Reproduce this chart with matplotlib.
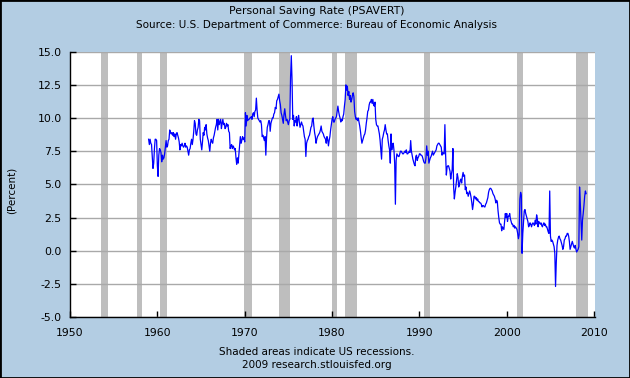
import numpy as np
import matplotlib
matplotlib.use("Agg")
import matplotlib.pyplot as plt
from matplotlib.patches import Rectangle

# monthly personal saving rate (percent), Jan 1959 onward, one row per year
sav_1959_1968 = [
    8.4, 8.0, 8.4, 8.1, 8.0, 7.1, 6.2, 6.6, 7.7, 8.4, 8.4, 8.3,
    6.4, 5.6, 7.2, 7.7, 7.6, 7.4, 6.7, 7.2, 6.9, 7.0, 7.3, 7.8,
    8.3, 7.8, 7.9, 8.3, 8.4, 9.1, 8.9, 8.8, 8.9, 8.7, 8.9, 8.6,
    8.8, 8.4, 8.8, 8.9, 8.7, 8.5, 8.2, 7.6, 8.0, 7.9, 8.1, 7.9,
    7.8, 7.9, 8.1, 7.8, 7.9, 7.8, 7.5, 7.2, 7.6, 7.7, 8.1, 8.4,
    8.0, 8.4, 9.0, 9.8, 9.6, 8.8, 8.7, 9.1, 9.3, 9.9, 9.8, 8.4,
    8.0, 7.6, 8.2, 8.9, 8.7, 9.3, 9.1, 9.5, 8.8, 8.5, 8.3, 7.9,
    7.5, 8.1, 8.4, 8.2, 8.1, 8.5, 8.7, 9.0, 9.3, 9.5, 9.9, 9.1,
    9.9, 9.5, 9.7, 9.9, 9.2, 9.6, 9.9, 9.5, 9.6, 9.2, 9.3, 9.6,
    9.4, 9.5, 9.0, 8.9, 7.7, 7.9, 8.0, 7.7, 7.9, 7.8, 7.6, 7.7,
]
sav_1969_1978 = [
    7.0, 6.5, 7.0, 6.6, 7.3, 7.9, 8.6, 8.1, 8.3, 8.6, 8.4, 8.5,
    8.2, 10.4, 9.4, 10.2, 9.8, 9.9, 9.9, 10.0, 10.0, 10.1, 9.9, 10.3,
    10.4, 10.1, 10.5, 10.6, 11.5, 10.6, 10.0, 9.9, 9.8, 9.7, 9.8, 9.5,
    8.6, 8.7, 8.5, 8.3, 8.6, 7.2, 8.5, 9.3, 9.5, 9.8, 9.8, 9.0,
    9.6, 9.8, 10.0, 10.0, 10.3, 10.4, 10.8, 10.7, 11.3, 11.4, 11.6, 11.8,
    11.3, 11.0, 10.4, 10.2, 9.9, 9.6, 10.3, 10.7, 10.2, 9.8, 9.9, 9.7,
    9.5, 9.8, 9.9, 13.1, 14.7, 12.9, 9.9, 10.2, 9.4, 9.8, 9.7, 10.1,
    9.4, 9.9, 10.2, 9.7, 9.3, 9.5, 9.7, 9.5, 9.4, 9.0, 8.6, 8.4,
    7.1, 8.1, 8.3, 8.4, 8.6, 8.7, 9.0, 9.3, 9.4, 9.9, 10.0, 9.4,
    8.9, 8.6, 8.1, 8.4, 8.6, 8.7, 8.8, 8.9, 9.1, 9.4, 9.0, 8.9,
]
sav_1979_1988 = [
    8.8, 8.6, 8.5, 8.4, 8.1, 8.6, 8.4, 7.9, 8.3, 8.6, 9.1, 9.5,
    9.9, 10.1, 9.7, 9.7, 9.9, 10.0, 10.1, 10.5, 10.9, 10.5, 10.2, 10.0,
    9.7, 9.9, 9.8, 10.1, 10.3, 10.9, 11.4, 12.5, 12.1, 12.4, 11.7, 12.0,
    11.4, 11.7, 11.2, 11.4, 11.7, 11.9, 11.6, 10.5, 10.1, 9.9, 10.0, 9.8,
    10.0, 9.7, 9.4, 9.0, 8.5, 8.1, 8.3, 8.5, 8.7, 8.8, 9.1, 9.6,
    10.0, 10.5, 10.6, 11.0, 11.2, 11.2, 11.4, 11.1, 11.4, 11.0, 10.9, 11.2,
    9.9, 9.5, 9.4, 9.4, 9.1, 8.8, 8.3, 7.6, 6.9, 8.4, 8.6, 8.9,
    9.1, 9.5, 9.1, 8.8, 8.8, 8.3, 7.9, 7.6, 6.6, 8.8, 7.6, 8.0,
    8.1, 7.6, 6.6, 3.5, 6.8, 7.3, 7.2, 7.1, 7.1, 7.3, 7.5, 7.5,
    7.4, 7.3, 7.3, 7.4, 7.5, 7.4, 7.6, 7.3, 7.3, 7.4, 7.5, 7.4,
]
sav_1989_1998 = [
    8.3, 7.5, 7.2, 6.9, 6.7, 6.5, 6.4, 7.1, 7.2, 6.8, 7.0, 7.1,
    7.3, 7.3, 7.2, 7.2, 7.1, 6.9, 6.7, 6.6, 6.6, 7.0, 7.9, 7.2,
    7.5, 6.6, 6.8, 7.0, 7.1, 7.3, 7.5, 7.2, 7.3, 7.4, 7.5, 7.6,
    7.9, 8.0, 8.1, 8.1, 8.0, 7.9, 7.8, 7.2, 7.4, 7.3, 7.3, 9.5,
    7.2, 5.7, 6.3, 6.4, 6.4, 6.2, 6.0, 5.4, 5.8, 6.1, 7.7, 4.8,
    3.9, 4.4, 4.8, 5.3, 5.8, 5.5, 4.8, 5.0, 5.3, 5.4, 5.1, 5.6,
    5.9, 5.6, 5.7, 4.6, 4.8, 4.3, 4.4, 4.1, 4.3, 4.5, 4.3, 4.0,
    3.6, 3.1, 3.5, 4.1, 4.1, 3.9, 4.0, 3.8, 3.9, 3.7, 3.7, 3.6,
    3.6, 3.5, 3.3, 3.4, 3.4, 3.3, 3.3, 3.5, 3.6, 3.8, 4.0, 4.4,
    4.6, 4.7, 4.7, 4.6, 4.5, 4.3, 4.2, 4.1, 3.9, 3.6, 3.8, 3.7,
]
sav_1999_2009 = [
    3.0, 2.5, 2.1, 2.0, 2.0, 1.5, 1.8, 1.7, 1.6, 2.2, 2.8, 2.5,
    2.8, 2.2, 2.6, 2.6, 2.8, 2.4, 2.2, 2.0, 2.0, 1.8, 1.9, 1.7,
    1.8, 1.7, 1.6, 1.3, 0.9, 1.2, 3.9, 4.4, 4.2, -0.2, 1.3, 2.1,
    3.0, 3.1, 2.8, 2.6, 2.4, 2.2, 1.8, 1.9, 2.1, 2.0, 1.8, 2.0,
    2.1, 2.0, 1.9, 2.3, 2.0, 2.7, 2.4, 1.8, 2.2, 2.1, 2.0, 2.1,
    1.9, 1.8, 2.0, 2.1, 1.9, 2.0, 1.8, 1.8, 1.6, 1.4, 1.3, 4.5,
    1.1, 0.7, 0.8, 0.7, 0.5, 0.3, -0.2, -2.7, -0.9, 0.4, 0.8, 1.0,
    1.1, 0.9, 0.8, 0.6, 0.4, 0.1, 0.3, 0.8, 0.9, 1.1, 1.1, 1.3,
    1.3, 1.1, 0.7, 0.1, 0.3, 0.5, 0.7, 0.5, 0.3, 0.2, 0.4, 0.1,
    -0.1, 0.0, 0.1, 0.3, 4.8, 3.6, 2.1, 0.8, 2.3, 2.8, 3.4, 4.1,
    4.5, 4.3,
]
start_year = 1959

# NBER recessions (start, end) in decimal years
recessions = [(1953.5, 1954.37), (1957.62, 1958.29), (1960.29, 1961.12),
              (1969.92, 1970.87), (1973.87, 1975.21), (1980.0, 1980.54),
              (1981.5, 1982.87), (1990.54, 1991.21), (2001.17, 2001.87),
              (2007.87, 2009.35)]

x_ticks = [1950, 1960, 1970, 1980, 1990, 2000, 2010]
y_ticks = [-5.0, -2.5, 0.0, 2.5, 5.0, 7.5, 10.0, 12.5, 15.0]

rate = np.array(sav_1959_1968 + sav_1969_1978 + sav_1979_1988
                + sav_1989_1998 + sav_1999_2009)
years = start_year + np.arange(len(rate)) / 12.0

bg = "#b3cde3"
W, H = 630, 378
fig = plt.figure(figsize=(6.3, 3.78), dpi=100, facecolor=bg)
ax = fig.add_axes([70 / W, 1 - 317 / H, 525 / W, 265.3 / H])
ax.set_facecolor("white")

for a, b in recessions:
    ax.axvspan(a, b, color="#bebebe", lw=0, zorder=1)

ax.set_yticks(y_ticks)
ax.set_yticklabels([f"{v:.1f}" for v in y_ticks])
ax.set_xticks(x_ticks)
ax.yaxis.grid(True, color="#a9a9a9", lw=1.0, zorder=2)
ax.set_axisbelow(False)
ax.plot(years, rate, color="#0000ff", lw=0.9, zorder=3)

ax.set_xlim(1950, 2010.1)
ax.set_ylim(-5, 15)
for s in ["top", "right"]:
    ax.spines[s].set_visible(False)
for s in ["left", "bottom"]:
    ax.spines[s].set_color("black")
    ax.spines[s].set_linewidth(1.0)
    ax.spines[s].set_zorder(4)
ax.tick_params(direction="in", length=4, width=1, colors="black",
               labelsize=7.8)
ax.tick_params(axis="x", pad=8)
ax.tick_params(axis="y", pad=6)

ax.set_ylabel("(Percent)", fontsize=7.5)
ax.yaxis.set_label_coords(-53 / 525, 0.479)

fig.text(317 / W, 1 - 11 / H, "Personal Saving Rate (PSAVERT)",
         ha="center", va="center", fontsize=7.8)
fig.text(317 / W, 1 - 25 / H,
         "Source: U.S. Department of Commerce: Bureau of Economic Analysis",
         ha="center", va="center", fontsize=7.5)
fig.text(317 / W, 1 - 352 / H, "Shaded areas indicate US recessions.",
         ha="center", va="center", fontsize=7.5)
fig.text(317 / W, 1 - 364.5 / H, "2009 research.stlouisfed.org",
         ha="center", va="center", fontsize=7.5)

fig.patches.append(Rectangle((0, 0), 1, 1, transform=fig.transFigure,
                             fill=False, edgecolor="black", lw=2))

fig.savefig("out.png", dpi=100, facecolor=bg)
